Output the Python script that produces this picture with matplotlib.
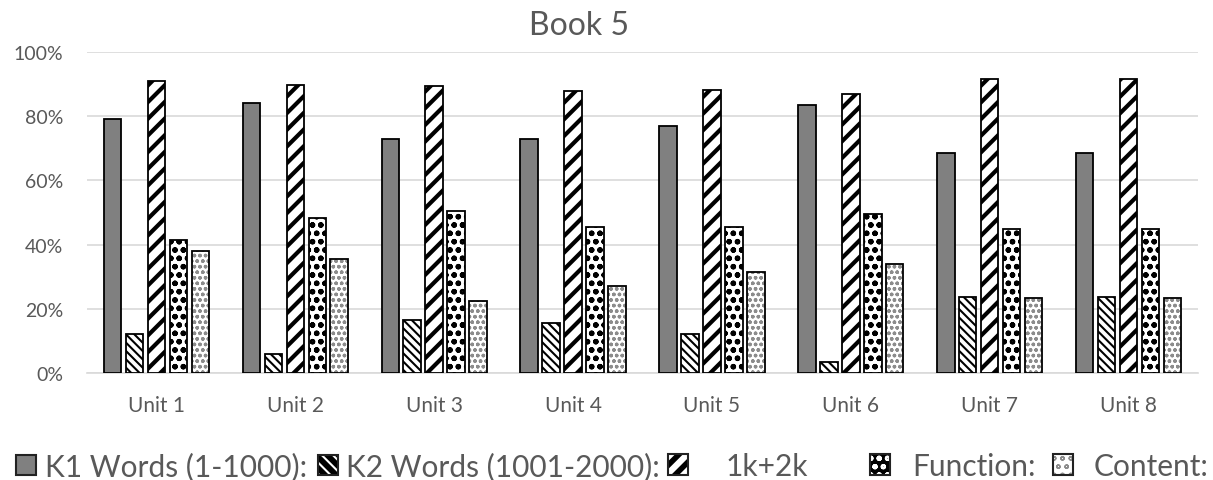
import matplotlib
matplotlib.use("Agg")
import matplotlib.pyplot as plt
import numpy as np
from matplotlib.patches import Patch

units = ["Unit 1", "Unit 2", "Unit 3", "Unit 4", "Unit 5", "Unit 6", "Unit 7", "Unit 8"]
k1 = [79.0, 84.0, 73.0, 73.0, 77.0, 83.5, 68.5, 68.5]
k2 = [12.2, 5.9, 16.5, 15.5, 12.0, 3.5, 23.7, 23.7]
k1k2 = [91.0, 89.7, 89.5, 88.0, 88.2, 87.0, 91.5, 91.5]
function = [41.3, 48.4, 50.5, 45.5, 45.5, 49.5, 44.8, 44.8]
content = [38.0, 35.6, 22.5, 27.0, 31.5, 34.0, 23.5, 23.5]
series_names = ["K1 Words (1-1000):", "K2 Words (1001-2000):", "1k+2k", "Function:", "Content:"]
yticks = [0, 20, 40, 60, 80, 100]

plt.rcParams['font.family'] = ['Lato', 'DejaVu Sans']
text_col = '#595959'
W, H = 1213, 481

fig = plt.figure(figsize=(W/100, H/100), dpi=100)
ax = fig.add_axes([87/W, 1-374/H, (1198-87)/W, (374-53)/H])

x = np.arange(len(units))
step = 0.158
bw = 0.126
offsets = (np.arange(5) - 2) * step

styles = [
    dict(face='#808080', hatch='', hcol='#808080', hlw=0.5),
    dict(face='white', hatch='\\\\\\\\', hcol='black', hlw=1.5),
    dict(face='white', hatch='//', hcol='black', hlw=3.0),
    dict(face='white', hatch='oo', hcol='black', hlw=1.6),
    dict(face='white', hatch='ooo', hcol='#8c8c8c', hlw=1.0),
]
data = [k1, k2, k1k2, function, content]

for i, (vals, st) in enumerate(zip(data, styles)):
    with plt.rc_context({'hatch.linewidth': st['hlw']}):
        ax.bar(x + offsets[i], vals, width=bw, color=st['face'], hatch=st['hatch'],
               edgecolor=st['hcol'], linewidth=0, zorder=3)
        ax.bar(x + offsets[i], vals, width=bw, fill=False, edgecolor='black',
               linewidth=1.3, zorder=4)

ax.set_ylim(0, 100)
ax.set_xlim(-0.5, len(units) - 0.5)
ax.set_yticks(yticks)
ax.set_yticklabels([f"{t}%" for t in yticks], color=text_col, fontsize=14)
ax.set_xticks(x)
ax.set_xticklabels(units, color=text_col, fontsize=15)
ax.tick_params(axis='y', length=0, pad=17)
ax.tick_params(axis='x', length=0, pad=16)
ax.yaxis.grid(True, color='#d9d9d9', linewidth=1.2, zorder=0)
ax.set_axisbelow(True)
for s in ['top', 'right', 'left']:
    ax.spines[s].set_visible(False)
ax.spines['bottom'].set_color('#d9d9d9')
ax.spines['bottom'].set_linewidth(1.2)

fig.text(579/W, 1-26/H, "Book 5", ha='center', va='center', fontsize=23, color=text_col)

# legend entries placed like the reference
leg_handles = [
    dict(face='#808080', hatch='', hcol='#808080', hlw=0.5),
    dict(face='black', hatch='\\\\\\', hcol='white', hlw=1.5),
    dict(face='white', hatch='//', hcol='black', hlw=4.0),
    dict(face='black', hatch='oo', hcol='white', hlw=1.5),
    dict(face='white', hatch='oo', hcol='#8c8c8c', hlw=1.0),
]
leg_x = [16, 318, 668, 870, 1053]
text_gap = [0.3, 0.27, 1.24, 0.74, 0.7]
fs = 21.5
for i in range(5):
    st = leg_handles[i]
    with plt.rc_context({'hatch.linewidth': st['hlw']}):
        h = (Patch(facecolor=st['face'], hatch=st['hatch'], edgecolor=st['hcol'], linewidth=0),
             Patch(fill=False, edgecolor='#222222', linewidth=1.5))
        lg = fig.legend([h], [series_names[i]], loc='center left',
                        bbox_to_anchor=(leg_x[i]/W, 1-467/H), frameon=False,
                        fontsize=fs, handlelength=0.67, handleheight=0.67,
                        handletextpad=text_gap[i], borderpad=0, borderaxespad=0)
    for t in lg.get_texts():
        t.set_color(text_col)

fig.savefig("out.png", dpi=100)
